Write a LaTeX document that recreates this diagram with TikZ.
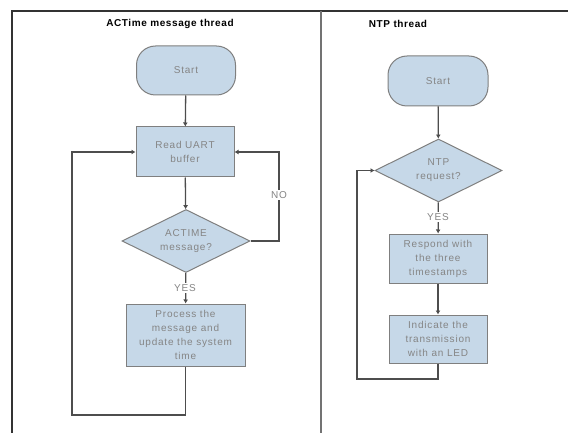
\documentclass[tikz,border=0pt]{standalone}
\usepackage{fontspec}
\setmainfont{Liberation Sans}
\usetikzlibrary{positioning, arrows.meta, shapes.geometric}

\definecolor{boxfill}{HTML}{C6D8E8}
\definecolor{boxline}{HTML}{7F7F7F}
\definecolor{wireline}{HTML}{4D4D4D}
\definecolor{txtgray}{HTML}{858585}

\tikzset{
  block/.style={draw=boxline, fill=boxfill, line width=1pt, rectangle, align=center,
    inner sep=1pt, text=txtgray,
    font=\fontsize{10}{14}\selectfont\addfontfeature{LetterSpace=8}},
  terminal/.style={block, rounded corners=19pt},
  decision/.style={block, diamond, aspect=2, inner sep=0pt},
  wire/.style={draw=wireline, line width=1.3pt},
  arrow/.style={wire, -{Latex[length=4pt,width=5pt]}},
  lbl/.style={fill=white, inner sep=1pt, text=txtgray,
    font=\fontsize{10}{12}\selectfont\addfontfeature{LetterSpace=8}},
  heading/.style={font=\bfseries\fontsize{10}{12}\selectfont\addfontfeature{LetterSpace=6}}
}

\begin{document}
\begin{tikzpicture}[x=1pt, y=-1pt]
  \useasboundingbox (0,0) rectangle (568,433);

  % Frame
  \draw[draw=black!80, line width=1.5pt] (12,433) -- (12,11) -- (568,11);
  \draw[draw=black!55, line width=1.3pt] (321,11) -- (321,433);

  % Titles
  \node[heading] (title1) at (170,24) {ACTime message thread};
  \node[heading] (title2) at (398,24) {NTP thread};

  % ACTime message thread
  \node[terminal, minimum width=99pt, minimum height=49pt] (start1) at (186,70.5) {Start};
  \node[block, minimum width=98pt, minimum height=50pt] (read) at (185,152) {Read UART\\buffer};
  \node[decision, minimum width=128pt, minimum height=63pt] (actime) at (186,241) {ACTIME\\message?};
  \node[block, minimum width=119pt, minimum height=62pt] (process) at (185.5,335)
    {Process the\\message and\\update the system\\time};
  \coordinate (noturn) at (279,241);
  \coordinate (backL) at (72,415);

  \draw[arrow] (start1) -- (read);
  \draw[arrow] (read) -- (actime);
  \draw[arrow] (actime) -- (process);
  \draw[arrow] (actime.east) -- (noturn) |- (read.east);
  \draw[arrow] (process.south) |- (backL) |- (read.west);
  \node[lbl] (no1) at (279,195) {NO};
  \node[lbl] (yes1) at (185,288) {YES};

  % NTP thread
  \node[terminal, minimum width=100pt, minimum height=50pt] (start2) at (438,81) {Start};
  \node[decision, minimum width=127pt, minimum height=63pt] (ntp) at (438.5,170.5) {NTP\\request?};
  \node[block, minimum width=98pt, minimum height=49pt] (respond) at (438,258.5)
    {Respond with\\the three\\timestamps};
  \node[block, minimum width=98pt, minimum height=48pt] (indicate) at (438,339)
    {Indicate the\\transmission\\with an LED};
  \coordinate (backR) at (357,379);

  \draw[arrow] (start2) -- (ntp);
  \draw[arrow] (ntp) -- (respond);
  \draw[arrow] (respond) -- (indicate);
  \draw[arrow] (indicate.south) |- (backR) |- (ntp.west);
  \node[lbl] (yes2) at (438,217) {YES};
\end{tikzpicture}
\end{document}
